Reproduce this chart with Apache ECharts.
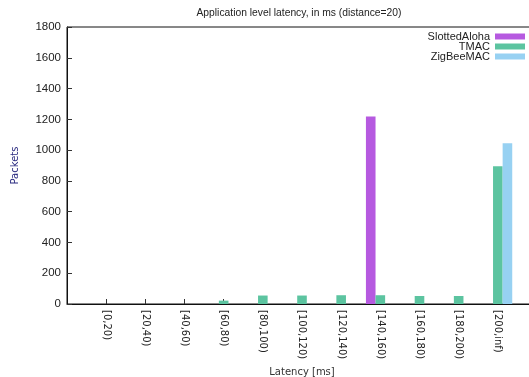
<!DOCTYPE html>
<html>
<head>
<meta charset="utf-8">
<script src="https://cdn.jsdelivr.net/npm/echarts@6/dist/echarts.min.js"></script>
<style>
  html, body { margin: 0; padding: 0; background: #fff; }
  #chart { width: 529px; height: 377px; }
</style>
</head>
<body>
<div id="chart"></div>
<script>
// Latency buckets (ms) and packet counts per MAC protocol
const categories = ['[0,20)', '[20,40)', '[40,60)', '[60,80)', '[80,100)', '[100,120)',
                    '[120,140)', '[140,160)', '[160,180)', '[180,200)', '[200,inf)'];
const seriesNames  = ['SlottedAloha', 'TMAC', 'ZigBeeMAC'];
const slottedAloha = [0, 0, 0, 0, 0, 0, 0, 1218, 0, 0, 0];
const tmac         = [0, 0, 0, 22, 55, 55, 57, 57, 52, 52, 895];
const zigbeeMac    = [0, 0, 0, 0, 0, 0, 0, 0, 0, 0, 1045];
const yTicks = { min: 0, max: 1800, interval: 200 };

// Padding slots on both sides of the histogram
const axisCats = [''].concat(categories, ['']);
const pad = arr => [null].concat(arr, [null]);

const chart = echarts.init(document.getElementById('chart'), null, { renderer: 'canvas' });

const barStyle = fill => ({
  type: 'bar',
  barWidth: 9.6,
  barGap: '0%',
  itemStyle: { color: fill }
});

// One key per row so the rows can sit tightly stacked
const legendRow = (name, top) => ({
  data: [name],
  orient: 'vertical',
  right: 4, top: top,
  padding: 0,
  align: 'right',
  itemWidth: 30, itemHeight: 6,
  icon: 'rect',
  textStyle: { fontFamily: 'Liberation Sans', fontSize: 11, color: '#222' }
});

chart.setOption({
  animation: false,
  backgroundColor: '#fff',
  title: {
    text: 'Application level latency, in ms (distance=20)',
    left: 294, top: 3, textAlign: 'center',
    textStyle: { fontFamily: 'Liberation Sans', fontSize: 10.3, fontWeight: 'normal', color: '#222' }
  },
  legend: [
    legendRow(seriesNames[0], 31),
    legendRow(seriesNames[1], 41),
    legendRow(seriesNames[2], 51)
  ],
  grid: {
    left: 67, top: 27, right: -8, bottom: 73,
    outerBoundsMode: 'none',
    containLabel: false,
    show: true, borderColor: '#111', borderWidth: 1, backgroundColor: 'transparent'
  },
  xAxis: {
    type: 'category',
    data: axisCats,
    boundaryGap: false,
    name: 'Latency [ms]',
    nameLocation: 'middle',
    nameGap: 63,
    nameTextStyle: { fontFamily: 'DejaVu Sans', fontSize: 10, color: '#333' },
    axisLine: { show: true, lineStyle: { color: '#111', width: 1 } },
    axisTick: { show: true, inside: true, length: 5, lineStyle: { color: '#333' },
                interval: (i, v) => v !== '' },
    axisLabel: { rotate: -90, margin: 6, interval: 0, fontFamily: 'DejaVu Sans', fontSize: 10, color: '#222' },
    splitLine: { show: false }
  },
  yAxis: {
    type: 'value',
    min: yTicks.min, max: yTicks.max, interval: yTicks.interval,
    name: 'Packets',
    nameLocation: 'middle',
    nameGap: 47,
    nameRotate: 90,
    nameTextStyle: { fontFamily: 'DejaVu Sans', fontSize: 10, color: '#2b2b80' },
    axisLine: { show: true, lineStyle: { color: '#111', width: 1 } },
    axisTick: { show: true, inside: true, length: 5, lineStyle: { color: '#333' } },
    axisLabel: { margin: 6, fontFamily: 'Liberation Sans', fontSize: 11.5, color: '#222',
                 formatter: v => String(v) },
    splitLine: { show: false }
  },
  series: [
    Object.assign({ name: seriesNames[0], data: pad(slottedAloha) }, barStyle('#b65ae0')),
    Object.assign({ name: seriesNames[1], data: pad(tmac) }, barStyle('#5cc4a0')),
    Object.assign({ name: seriesNames[2], data: pad(zigbeeMac) }, barStyle('#97d1f2'))
  ]
});
</script>
</body>
</html>
